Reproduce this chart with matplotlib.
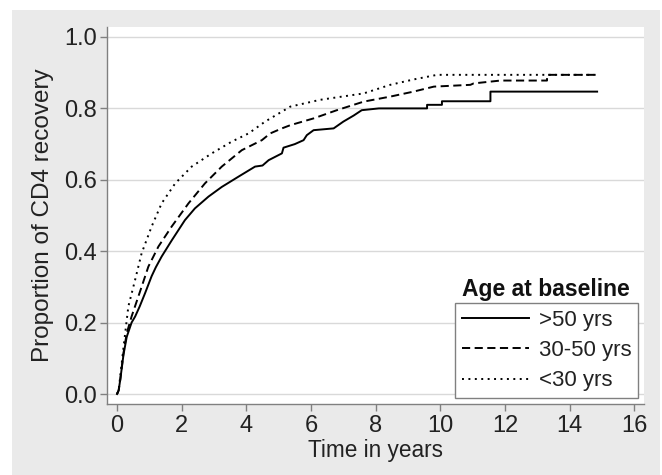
import matplotlib
matplotlib.use('Agg')
import matplotlib.pyplot as plt
from matplotlib.patches import Rectangle

plt.rcParams['font.family'] = ['Liberation Sans', 'DejaVu Sans']

# Kaplan-Meier style cumulative CD4 recovery
t_over50 = [0, 0.05, 0.1, 0.2, 0.3, 0.45, 0.56, 0.7, 0.87, 1.07, 1.2, 1.38, 1.69, 2.1, 2.41,
            2.83, 3.24, 3.76, 4.27, 4.5, 4.69, 5.1, 5.15, 5.5, 5.77, 5.87, 6.08, 6.7, 7.0,
            7.32, 7.57, 8.1, 9.59, 9.59, 10.05, 10.05, 11.55, 11.55, 14.85]
p_over50 = [0, 0.01, 0.04, 0.11, 0.16, 0.2, 0.217, 0.245, 0.283, 0.33, 0.355, 0.385, 0.43,
            0.487, 0.52, 0.553, 0.58, 0.609, 0.637, 0.64, 0.655, 0.674, 0.69, 0.70, 0.711,
            0.725, 0.739, 0.744, 0.763, 0.78, 0.795, 0.80, 0.80, 0.81, 0.81, 0.82, 0.82,
            0.847, 0.847]

t_30_50 = [0, 0.05, 0.1, 0.2, 0.3, 0.45, 0.76, 0.97, 1.28, 1.69, 2.21, 2.72, 3.24, 3.86, 4.48,
           4.74, 5.1, 5.36, 6.08, 6.8, 7.63, 8.45, 9.17, 9.8, 10.93, 11.03, 11.86, 13.3, 13.3,
           14.85]
p_30_50 = [0, 0.01, 0.04, 0.115, 0.17, 0.217, 0.30, 0.357, 0.413, 0.469, 0.534, 0.59, 0.637,
           0.683, 0.711, 0.73, 0.744, 0.753, 0.772, 0.795, 0.819, 0.833, 0.847, 0.861, 0.866,
           0.87, 0.878, 0.878, 0.894, 0.894]

t_under30 = [0, 0.05, 0.1, 0.2, 0.35, 0.56, 0.76, 1.07, 1.38, 1.8, 2.31, 2.93, 3.55, 4.07,
             4.58, 5.1, 5.36, 6.28, 7.63, 8.45, 9.17, 9.9, 14.85]
p_under30 = [0, 0.01, 0.05, 0.13, 0.245, 0.32, 0.394, 0.469, 0.534, 0.59, 0.637, 0.674, 0.707,
             0.73, 0.763, 0.791, 0.805, 0.824, 0.842, 0.866, 0.881, 0.894, 0.894]

labels = ['>50 yrs', '30-50 yrs', '<30 yrs']
xticks = [0, 2, 4, 6, 8, 10, 12, 14, 16]
yticks = [0.0, 0.2, 0.4, 0.6, 0.8, 1.0]

fig = plt.figure(figsize=(6.62, 4.75), dpi=100, facecolor='white')
# grey outer panel, kept behind the axes
fig.add_artist(Rectangle((12 / 662, 0), 648 / 662, 465 / 475, transform=fig.transFigure,
                         facecolor='#eaeaea', edgecolor='none', zorder=-10))

ax = fig.add_axes([107 / 662, 71 / 475, 537 / 662, 377 / 475])
ax.set_facecolor('white')

ax.plot(t_over50, p_over50, color='black', lw=1.4, ls='-', label=labels[0])
ax.plot(t_30_50, p_30_50, color='black', lw=1.4, ls=(0, (4.2, 2.3)), label=labels[1])
ax.plot(t_under30, p_under30, color='black', lw=1.4, ls=(0, (1, 2.3)), label=labels[2])

ax.set_xlim(-0.31, 16.3)
ax.set_ylim(-0.028, 1.028)
ax.set_xticks(xticks)
ax.set_yticks(yticks)
ax.set_yticklabels([f'{v:.1f}' for v in yticks])
ax.grid(axis='y', color='#d9d9d9', lw=1)
ax.set_axisbelow(True)

for s in ['top', 'right']:
    ax.spines[s].set_visible(False)
for s in ['left', 'bottom']:
    ax.spines[s].set_color('#808080')
    ax.spines[s].set_linewidth(1)

ax.tick_params(axis='both', colors='#808080', labelcolor='#222222', length=5, width=1,
               labelsize=17)
ax.tick_params(axis='y', pad=2)
ax.tick_params(axis='x', pad=3)

ax.set_xlabel('Time in years', fontsize=16.3, color='#222222')
ax.set_ylabel('Proportion of CD4 recovery', fontsize=17.5, color='#222222')
ax.xaxis.set_label_coords(0.5, -0.093)
ax.yaxis.set_label_coords(-0.098, 0.5)

leg = ax.legend(loc='lower right', bbox_to_anchor=(0.989, 0.016), borderaxespad=0,
                fontsize=16, handlelength=3.0, handletextpad=0.45, labelspacing=0.42,
                fancybox=False, framealpha=1, edgecolor='#808080', borderpad=0.3)
leg.get_frame().set_linewidth(1)
for txt in leg.get_texts():
    txt.set_color('#222222')

ax.text(0.8166, 0.305, 'Age at baseline', transform=ax.transAxes, ha='center', va='center',
        fontsize=16.5, fontweight='bold', color='#111111')

fig.savefig('out.png', dpi=100, facecolor=fig.get_facecolor())
